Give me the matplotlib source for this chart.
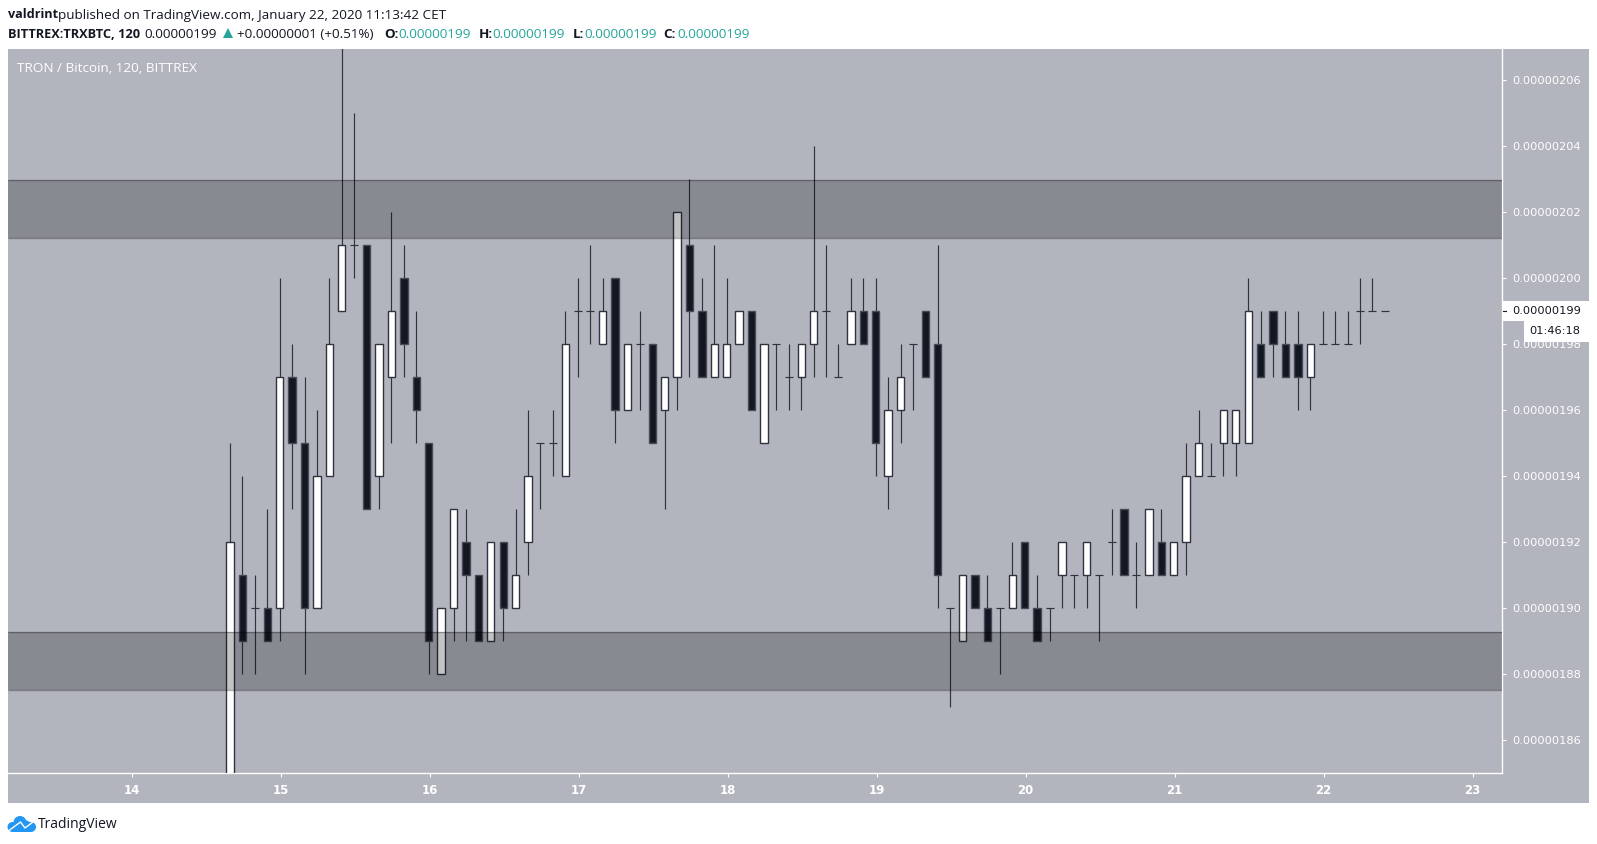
#!/usr/bin/env python3
"""TRX/BTC 2h candles with two grey supply/demand zones, TradingView look."""
import numpy as np
import matplotlib
matplotlib.use('Agg')
import matplotlib.pyplot as plt
from matplotlib.patches import Rectangle, Polygon, Circle

W, H = 1597, 844

# prices in satoshi (1e-8 BTC), one candle every 2 hours
FIRST_DAY = 14 + 8 / 12 - 1 / 149  # bars sit about a pixel left of the day grid
CANDLE_DAYS = 1 / 12

opens = [184, 191, 190, 190, 190, 197, 195, 190, 194, 199, 201, 201, 194, 197, 200, 197,
         195, 188, 190, 192, 191, 189, 192, 190, 192, 195, 195, 194, 199, 199, 198, 200,
         196, 198, 198, 196, 197, 201, 199, 197, 197, 198, 199, 195, 198, 197, 197, 198,
         199, 197, 198, 199, 199, 194, 196, 198, 199, 198, 190, 189, 191, 190, 190, 190,
         192, 190, 190, 191, 191, 191, 191, 192, 193, 191, 191, 192, 191, 192, 194, 194,
         195, 195, 195, 198, 199, 198, 198, 197, 198, 198, 198, 199, 199, 199]
closes = [192, 189, 190, 189, 197, 195, 190, 194, 198, 201, 201, 193, 198, 199, 198, 196,
          189, 190, 193, 191, 189, 192, 190, 191, 194, 195, 195, 198, 199, 199, 199, 196,
          198, 198, 195, 197, 202, 199, 197, 198, 198, 199, 196, 198, 198, 197, 198, 199,
          199, 197, 199, 198, 195, 196, 197, 198, 197, 191, 190, 191, 190, 189, 190, 191,
          190, 189, 190, 192, 191, 192, 191, 192, 191, 191, 193, 191, 192, 194, 195, 194,
          196, 196, 199, 197, 198, 197, 197, 198, 198, 198, 198, 199, 199, 199]
highs = [195, 194, 191, 193, 200, 198, 197, 196, 200, 208, 205, 201, 198, 202, 201, 199,
         195, 190, 193, 193, 191, 192, 192, 193, 196, 195, 196, 199, 200, 201, 200, 200,
         198, 199, 198, 197, 202, 203, 200, 201, 200, 199, 199, 198, 198, 198, 198, 204,
         201, 198, 200, 200, 200, 197, 198, 198, 199, 201, 190, 191, 191, 191, 190, 192,
         192, 191, 190, 192, 191, 192, 191, 193, 193, 192, 193, 193, 192, 195, 196, 195,
         196, 196, 200, 199, 199, 199, 199, 198, 199, 199, 199, 200, 200, 199]
lows = [184, 188, 188, 189, 189, 193, 188, 190, 194, 199, 200, 193, 193, 195, 197, 195,
        188, 188, 189, 189, 189, 189, 189, 190, 191, 193, 194, 194, 197, 198, 198, 195,
        196, 196, 195, 193, 196, 197, 197, 197, 197, 198, 196, 195, 196, 196, 196, 197,
        197, 197, 198, 198, 194, 193, 195, 196, 197, 190, 187, 189, 190, 189, 188, 190,
        190, 189, 189, 190, 190, 190, 189, 191, 191, 190, 191, 191, 191, 191, 194, 194,
        194, 194, 195, 197, 197, 197, 196, 196, 198, 198, 198, 198, 199, 199]

zones = [(201.2, 202.97), (187.53, 189.26)]

y_ticks = [186, 188, 190, 192, 194, 196, 198, 200, 202, 204, 206]
y_labels = ['0.00000186', '0.00000188', '0.00000190', '0.00000192', '0.00000194', '0.00000196',
            '0.00000198', '0.00000200', '0.00000202', '0.00000204', '0.00000206']
x_ticks = [14, 15, 16, 17, 18, 19, 20, 21, 22, 23]

BG = '#b2b5be'
DARK = '#131722'
TEAL = '#26a69a'
UI_FONT = ['Open Sans', 'DejaVu Sans']

fig = plt.figure(figsize=(W / 100, H / 100), dpi=100, facecolor='white')

# overlay in pixel coordinates, for the chrome around the chart
bg = fig.add_axes([0, 0, 1, 1])
bg.set_xlim(0, W)
bg.set_ylim(H, 0)
bg.axis('off')
bg.add_patch(Rectangle((8, 49), 1581, 754, color=BG, lw=0))

ax = fig.add_axes([8 / W, 1 - 773 / H, (1502 - 8) / W, (773 - 49) / H])
ax.patch.set_alpha(0)
# 33 px per unit, 278 px = 200
ax.set_ylim(200 - (773 - 278) / 33, 200 + (278 - 49) / 33)
ax.set_xlim(14 + (8 - 131.7) / 149, 14 + (1502 - 131.7) / 149)

x = FIRST_DAY + np.arange(len(opens)) * CANDLE_DAYS
o, c, hi, lo = map(np.array, (opens, closes, highs, lows))
body_w = 7.3 / 149

ax.vlines(x, lo, hi, color='#2f333f', lw=0.85, zorder=2)
up = c > o
down = c < o
flat = c == o
ax.bar(x[up], (c - o)[up], bottom=o[up], width=body_w, color='white',
       edgecolor='#2f333f', lw=1.0, zorder=3)
ax.bar(x[down], (c - o)[down], bottom=o[down], width=body_w, color=DARK,
       edgecolor='#474b57', lw=1.0, zorder=3)
ax.hlines(o[flat], x[flat] - 4 / 149, x[flat] + 4 / 149, color='#2f333f', lw=0.85, zorder=3)

for low, high in zones:
    ax.axhspan(low, high, facecolor='black', alpha=0.235, lw=0, zorder=4)
    ax.hlines([low, high], *ax.get_xlim(), color='black', alpha=0.3, lw=1, zorder=4)

for side in ('left', 'top'):
    ax.spines[side].set_visible(False)
for side in ('right', 'bottom'):
    ax.spines[side].set_color('white')
    ax.spines[side].set_linewidth(1)
ax.yaxis.tick_right()
ax.set_yticks(y_ticks, y_labels)
ax.set_xticks(x_ticks, [str(d) for d in x_ticks])
ax.tick_params(axis='y', colors='white', length=2.9, width=0.8, pad=4.3, labelsize=8.2)
ax.tick_params(axis='x', colors='white', length=2.9, width=0.8, pad=5.2, labelsize=8.5)
for t in ax.get_xticklabels():
    t.set_fontweight('bold')

# overlay on top for current price tags and header
top = fig.add_axes([0, 0, 1, 1])
top.set_xlim(0, W)
top.set_ylim(H, 0)
top.axis('off')
top.patch.set_alpha(0)
top.add_patch(Rectangle((1503, 301), 86, 20, color='white', lw=0))
top.add_patch(Rectangle((1524, 321), 65, 21, color='white', lw=0))
top.plot([1503, 1506], [311, 311], color=DARK, lw=0.8)
top.text(1512, 311, '0.00000199', color=DARK, fontsize=8.2, va='center')
top.text(1580, 331.5, '01:46:18', color=DARK, fontsize=8.2, va='center', ha='right')


def label(px, py, s, color='#131722', weight='normal', size=9.7):
    top.text(px, py, s, color=color, fontweight=weight, fontsize=size, va='center',
             family=UI_FONT)


label(7.5, 15, 'valdrint', weight='bold', size=9.1)
label(58.5, 15, 'published on TradingView.com, January 22, 2020 11:13:42 CET')
label(7.5, 34, 'BITTREX:TRXBTC, 120', weight='bold', size=9.2)
label(144, 34, '0.00000199')
top.add_patch(Polygon([[223, 38], [233, 38], [228, 28]], color=TEAL, lw=0))
label(237, 34, '+0.00000001 (+0.51%)')
for name, nx, vx in [('O:', 384, 398), ('H:', 479, 492), ('L:', 573, 584), ('C:', 663, 677)]:
    label(nx, 34, name, weight='bold')
    label(vx, 34, '0.00000199', color=TEAL)
label(17, 68.5, 'TRON / Bitcoin, 120, BITTREX', color='white')

# cloud logo
LOGO = '#2196f3'
for cx, cy, r in [(12.5, 827, 5), (20, 822.5, 6.5), (31, 827, 5), (26, 825, 4.5)]:
    top.add_patch(Circle((cx, cy), r, color=LOGO, lw=0))
top.add_patch(Rectangle((12.5, 826), 18.5, 6, color=LOGO, lw=0))
top.plot([9, 20.5, 25, 33], [830.5, 822, 828, 822], color='white', lw=1.0)
label(38, 824, 'TradingView', size=10)

fig.savefig('out.png', dpi=100, facecolor='white')
